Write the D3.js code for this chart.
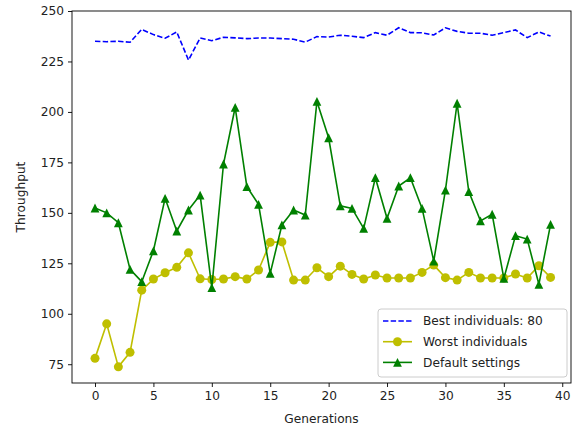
<!DOCTYPE html>
<html><head><meta charset="utf-8">
<script src="https://cdn.jsdelivr.net/npm/d3@7"></script>
<style>body{margin:0;background:#fff}svg{display:block;font-family:"DejaVu Sans",sans-serif}</style>
</head><body><svg id="c" width="573" height="428"></svg>
<script>
const generations = d3.range(0, 40);
const bestValues = [235,234.8,235,234.5,240.9,238.3,236.5,239.6,225.7,236.6,235.3,237,236.7,236.3,236.6,236.6,236.3,236,234.6,237.3,237.1,238,237.5,236.8,239.3,238,241.7,239.3,239.2,238.1,241.7,239.9,239,239,238,239.3,240.6,236.8,239.6,237.6];
const worstValues = [77.9,95,73.7,80.9,111.7,117.2,120.3,123,130.2,117.3,117,117.2,118.4,117.2,121.7,135.4,135.6,116.7,116.7,122.8,118.4,123.6,119.5,117.2,119.2,117.7,117.7,117.7,120.5,124.1,117.9,116.7,120.5,117.7,117.7,117.7,119.7,117.7,123.8,118];
const defaultValues = [152.4,150,145.1,122,115.9,131.2,157.2,141,151.4,158.8,113,174.2,202.3,163,154.2,120,144,151.4,148.9,205.2,187.2,153.5,152.2,142.3,167.4,147.3,163.3,167.4,152.2,126.1,161.3,204.3,160.5,146,149.3,117.5,138.7,137,114.6,144.3];
const xTicks = [0,5,10,15,20,25,30,35,40];
const yTicks = [75,100,125,150,175,200,225,250];
const seriesNames = ["Best individuals: 80","Worst individuals","Default settings"];

const svg = d3.select("#c");
const L=72, R=571, T=11, B=383;
const x = d3.scaleLinear().domain([-1.97, 40.75]).range([L, R]);
const y = d3.scaleLinear().domain([65.7, 250]).range([B, T]);
const SW = 1.6;

const gx = svg.append("g").attr("transform",`translate(0,${B})`)
  .call(d3.axisBottom(x).tickValues(xTicks).tickSize(4).tickPadding(4).tickFormat(d3.format("d")));
const gy = svg.append("g").attr("transform",`translate(${L},0)`)
  .call(d3.axisLeft(y).tickValues(yTicks).tickSize(4).tickPadding(4).tickFormat(d3.format("d")));
[gx,gy].forEach(g=>{
  g.select(".domain").remove();
  g.selectAll("text").attr("font-size",12.2).attr("fill","#222").attr("font-family","DejaVu Sans");
  g.selectAll("line").attr("stroke","#000").attr("stroke-width",0.9);
});

const line = d3.line().x((d,i)=>x(generations[i])).y(d=>y(d));
const plot = svg.append("g");
plot.append("path").datum(bestValues).attr("d",line).attr("fill","none")
  .attr("stroke","#0000ff").attr("stroke-width",SW).attr("stroke-dasharray","5.4,2.3");
plot.append("path").datum(worstValues).attr("d",line).attr("fill","none")
  .attr("stroke","#bfbf00").attr("stroke-width",SW);
plot.selectAll(".wc").data(worstValues).enter().append("circle")
  .attr("cx",(d,i)=>x(generations[i])).attr("cy",d=>y(d)).attr("r",4.5).attr("fill","#bfbf00");
plot.append("path").datum(defaultValues).attr("d",line).attr("fill","none")
  .attr("stroke","#008000").attr("stroke-width",SW);
function triPath(s){ return `M0,${-s}L${s},${s}L${-s},${s}Z`; }
plot.selectAll(".gt").data(defaultValues).enter().append("path")
  .attr("d",triPath(4.4))
  .attr("transform",(d,i)=>`translate(${x(generations[i])},${y(d)})`).attr("fill","#008000");

svg.append("rect").attr("x",L).attr("y",T).attr("width",R-L).attr("height",B-T)
  .attr("fill","none").attr("stroke","#000").attr("stroke-width",0.9);

svg.append("text").attr("x",(L+R)/2).attr("y",423).attr("text-anchor","middle")
  .attr("font-size",12.2).attr("fill","#222").text("Generations");
svg.append("text").attr("transform",`translate(25,${(T+B)/2}) rotate(-90)`).attr("text-anchor","middle")
  .attr("font-size",12.2).attr("fill","#222").text("Throughput");

const lg = svg.append("g");
lg.append("rect").attr("x",378).attr("y",309).attr("width",189).attr("height",68).attr("rx",3)
  .attr("fill","#fff").attr("fill-opacity",0.8).attr("stroke","#ccc").attr("stroke-width",1);
const rows=[321,341.7,362.4];
const colors=["#0000ff","#bfbf00","#008000"];
rows.forEach((ry,i)=>{
  const l = lg.append("line").attr("x1",383).attr("x2",412).attr("y1",ry).attr("y2",ry)
    .attr("stroke",colors[i]).attr("stroke-width",SW);
  if(i===0) l.attr("stroke-dasharray","5.4,2.3");
  if(i===1) lg.append("circle").attr("cx",397.5).attr("cy",ry).attr("r",4.5).attr("fill",colors[i]);
  if(i===2) lg.append("path").attr("d",triPath(4.4)).attr("transform",`translate(397.5,${ry})`).attr("fill",colors[i]);
  lg.append("text").attr("x",423).attr("y",ry).attr("dy","0.36em").attr("font-size",12.2).attr("fill","#222").text(seriesNames[i]);
});
</script></body></html>
